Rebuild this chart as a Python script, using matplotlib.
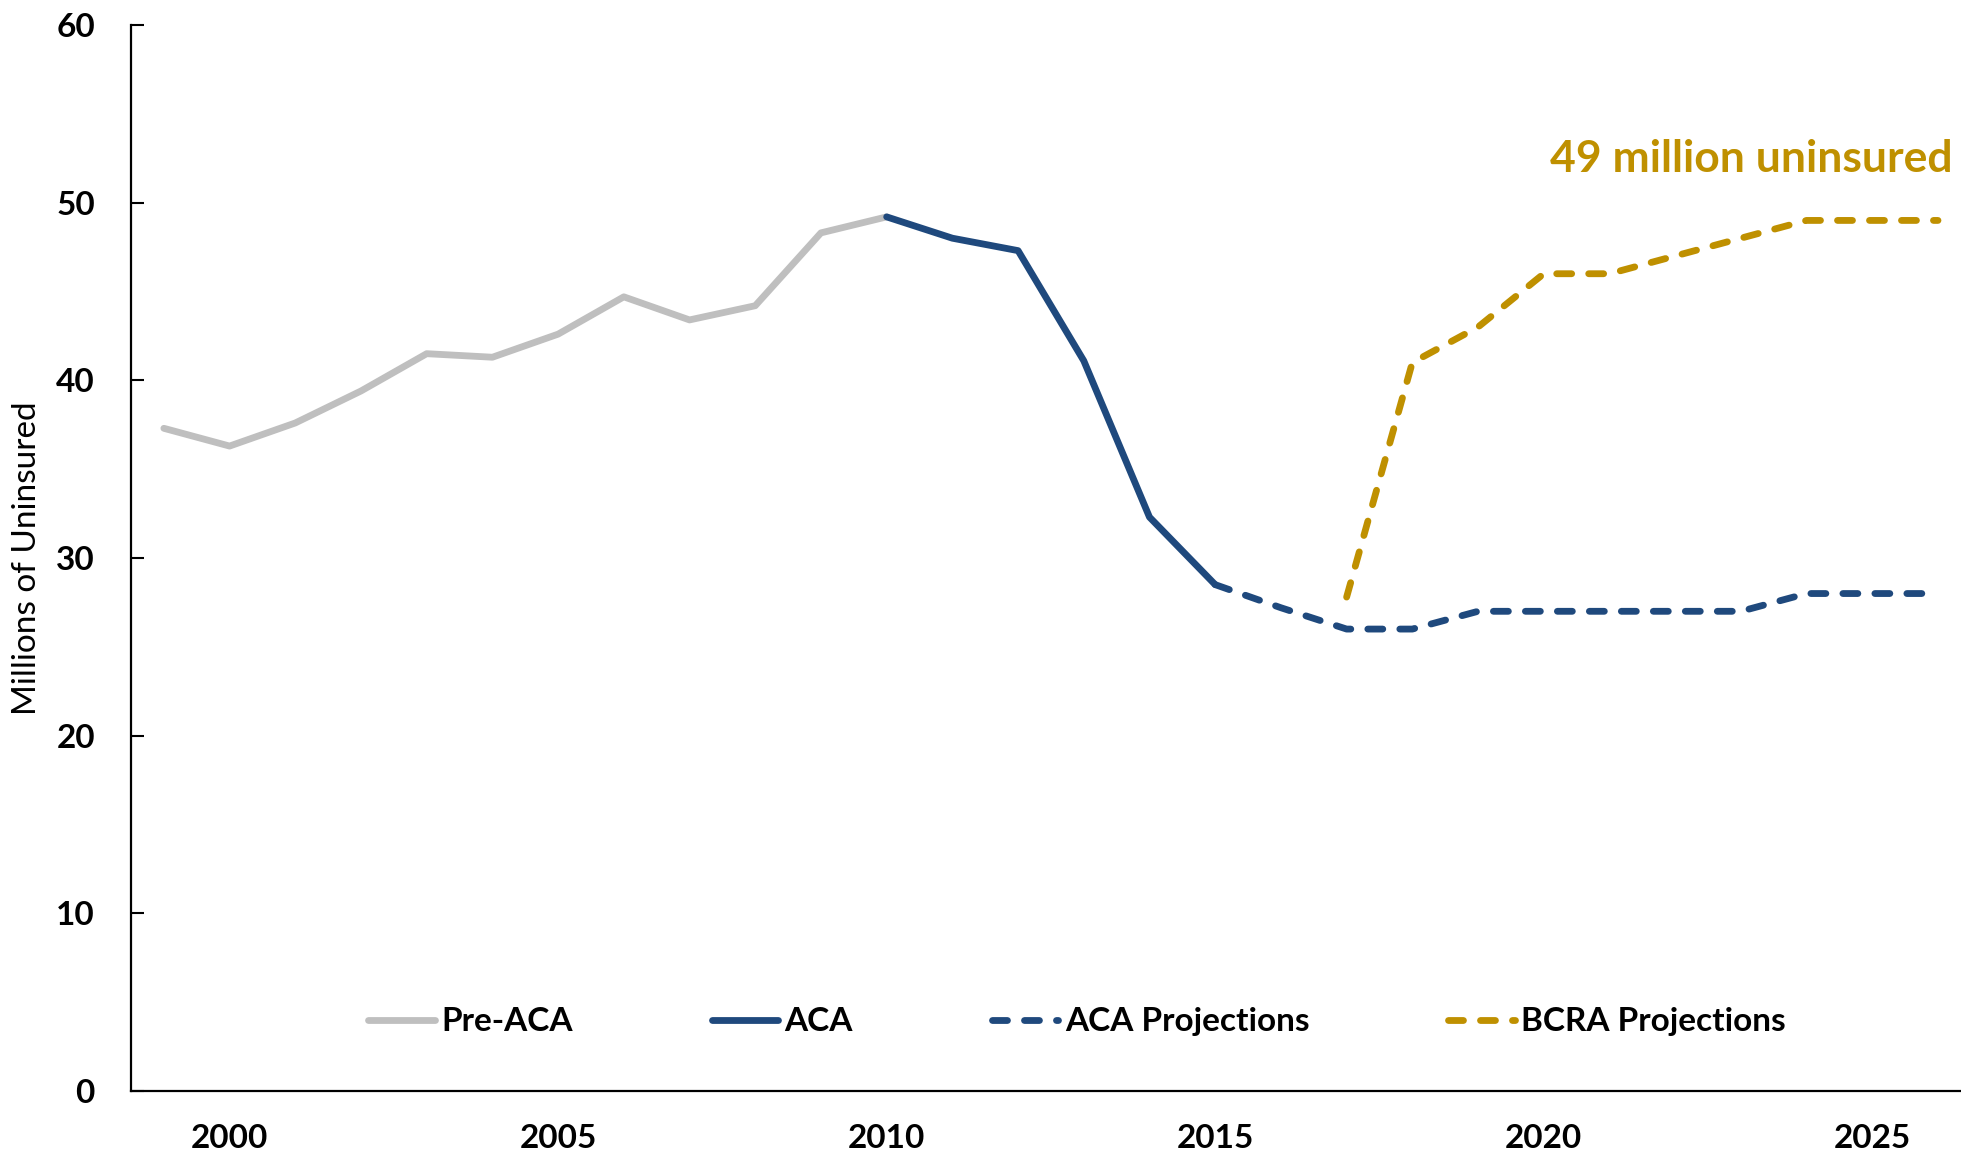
import matplotlib
matplotlib.use("Agg")
import matplotlib.pyplot as plt

# ---- data ----
pre_years = [1999, 2000, 2001, 2002, 2003, 2004, 2005, 2006, 2007, 2008, 2009, 2010]
pre_vals = [37.3, 36.3, 37.6, 39.4, 41.5, 41.3, 42.6, 44.7, 43.4, 44.2, 48.3, 49.2]

aca_years = [2010, 2011, 2012, 2013, 2014, 2015]
aca_vals = [49.2, 48.0, 47.3, 41.1, 32.3, 28.5]

acaproj_years = [2015, 2016, 2017, 2018, 2019, 2020, 2021, 2022, 2023, 2024, 2025, 2026]
acaproj_vals = [28.5, 27.2, 26, 26, 27, 27, 27, 27, 27, 28, 28, 28]

bcra_years = [2017, 2018, 2019, 2020, 2021, 2022, 2023, 2024, 2025, 2026]
bcra_vals = [27.8, 41, 43, 46, 46, 47, 48, 49, 49, 49]

xticks = [2000, 2005, 2010, 2015, 2020, 2025]
yticks = [0, 10, 20, 30, 40, 50, 60]

GRAY = "#BFBFBF"
NAVY = "#1F497D"
GOLD = "#BF9000"

plt.rcParams['font.family'] = ['Lato', 'DejaVu Sans']

fig = plt.figure(figsize=(19.61, 11.56), dpi=100)
ax = fig.add_axes([131/1961, 65/1156, 1 - 131/1961, (1091-25)/1156])

lw = 4.9
dash = (0, (2.2, 2.5))
ax.plot(pre_years, pre_vals, color=GRAY, lw=lw, solid_capstyle='round',
        solid_joinstyle='round', label='Pre-ACA', zorder=2)
ax.plot(aca_years, aca_vals, color=NAVY, lw=lw, solid_capstyle='round',
        solid_joinstyle='round', label='ACA', zorder=3)
ax.plot(acaproj_years, acaproj_vals, color=NAVY, lw=lw, ls=dash,
        dash_capstyle='round', dash_joinstyle='round', label='ACA Projections', zorder=3)
ax.plot(bcra_years, bcra_vals, color=GOLD, lw=lw, ls=dash,
        dash_capstyle='round', dash_joinstyle='round', label='BCRA Projections', zorder=3)

ax.set_xlim(1998.5, 2026.35)
ax.set_ylim(0, 60)
ax.set_xticks(xticks)
ax.set_yticks(yticks)
ax.tick_params(axis='x', length=0, pad=24, labelsize=24)
ax.tick_params(axis='y', direction='in', length=9, width=1.5, pad=26, labelsize=24)
for lab in ax.get_xticklabels() + ax.get_yticklabels():
    lab.set_fontweight('bold')

for s in ['top', 'right']:
    ax.spines[s].set_visible(False)
for s in ['left', 'bottom']:
    ax.spines[s].set_linewidth(1.6)

ax.set_ylabel('Millions of Uninsured', fontsize=24)
ax.yaxis.set_label_coords(-(131-42)/1830, 0.5)

ax.text(2026.23, 52.45, '49 million uninsured', color=GOLD, fontsize=32,
        fontweight='bold', ha='right', va='center')

leg = ax.legend(loc='center', bbox_to_anchor=(0.517, 0.065), ncol=4, frameon=False,
                handlelength=2.0, handletextpad=0.19, columnspacing=4.16,
                prop={'weight': 'bold', 'size': 24})

fig.savefig('out.png', dpi=100)
